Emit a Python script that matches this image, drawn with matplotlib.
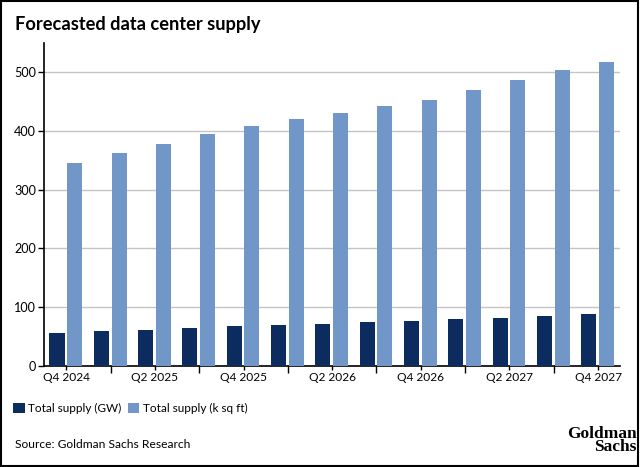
import matplotlib
matplotlib.use("Agg")
import matplotlib.pyplot as plt
import numpy as np
from matplotlib.patches import Rectangle

# Datos
trimestres = ["Q4 2024", "Q1 2025", "Q2 2025", "Q3 2025", "Q4 2025", "Q1 2026",
              "Q2 2026", "Q3 2026", "Q4 2026", "Q1 2027", "Q2 2027", "Q3 2027",
              "Q4 2027"]
supply_gw = [55.5, 59, 62, 64.5, 67.5, 70, 72, 74.5, 76.5, 79.5, 82.5, 85.5, 88.5]
supply_sqft = [346, 362, 378, 394, 408, 420, 431, 442, 453, 469, 486, 503, 518]

plt.rcParams['font.family'] = ['Lato', 'DejaVu Sans']

fig = plt.figure(figsize=(6.4, 4.67), dpi=100)
ax = fig.add_axes([0.069, 0.2163, 0.9, 0.692])


def tam_para_ancho(texto, ancho_px, **kw):
    """Tamaño de fuente con el que el texto ocupa ancho_px píxeles"""
    t = fig.text(0, 0, texto, fontsize=10, **kw)
    w = t.get_window_extent(fig.canvas.get_renderer()).width
    t.remove()
    return 10 * ancho_px / w


x = np.arange(len(trimestres))
ancho = 0.34
ax.bar(x - 0.21, supply_gw, ancho, color='#0c2c5f', zorder=3,
       label='Total supply (GW)')
ax.bar(x + 0.19, supply_sqft, ancho, color='#7197c8', zorder=3,
       label='Total supply (k sq ft)')

ax.set_xlim(-0.5, len(trimestres) - 0.5)
ax.set_ylim(0, 550)
ax.set_yticks([0, 100, 200, 300, 400, 500])
ax.grid(axis='y', color='#c4c4c4', linewidth=1, zorder=0)

tam_ticks = tam_para_ancho('Q4 2024', 47)
tam_y = tam_para_ancho('500', 22)

# etiquetas en trimestres pares, marcas en todos
ax.set_xticks(x[::2])
ax.set_xticklabels(trimestres[::2])
ax.set_xticks(x[1::2], minor=True)
ax.tick_params(axis='x', which='major', length=3, width=1, pad=1.5,
               labelsize=tam_ticks)
ax.tick_params(axis='x', which='minor', length=5, width=1, color='black')
ax.tick_params(axis='y', length=4, width=1, labelsize=tam_y, pad=2)

for lado in ['top', 'right']:
    ax.spines[lado].set_visible(False)
ax.spines['left'].set_linewidth(1.2)
ax.spines['bottom'].set_linewidth(1.2)

titulo = 'Forecasted data center supply'
fig.text(0.023, 0.965, titulo, fontsize=tam_para_ancho(titulo, 246, fontweight='bold'),
         fontweight='bold', va='top', ha='left')

tam_leyenda = tam_para_ancho('Total supply (GW)', 93)
fig.legend(loc='center left', bbox_to_anchor=(0.021, 0.126), ncol=2, frameon=False,
           fontsize=tam_leyenda, handlelength=0.95, handleheight=1.0,
           handletextpad=0.3, columnspacing=0.6, borderaxespad=0, borderpad=0)

fuente = 'Source: Goldman Sachs Research'
fig.text(0.023, 0.049, fuente, fontsize=tam_para_ancho(fuente, 175),
         va='center', ha='left')
fig.text(0.995, 0.025, 'Goldman\nSachs', fontsize=12.5, fontweight='bold',
         family=['Liberation Serif', 'DejaVu Serif'], ha='right', va='bottom',
         linespacing=0.75)

# borde negro de la figura
fig.patches.append(Rectangle((0.001, 0.002), 0.996, 0.996, transform=fig.transFigure,
                             fill=False, edgecolor='black', linewidth=1.5))

plt.savefig('out.png', dpi=100)
plt.close()
